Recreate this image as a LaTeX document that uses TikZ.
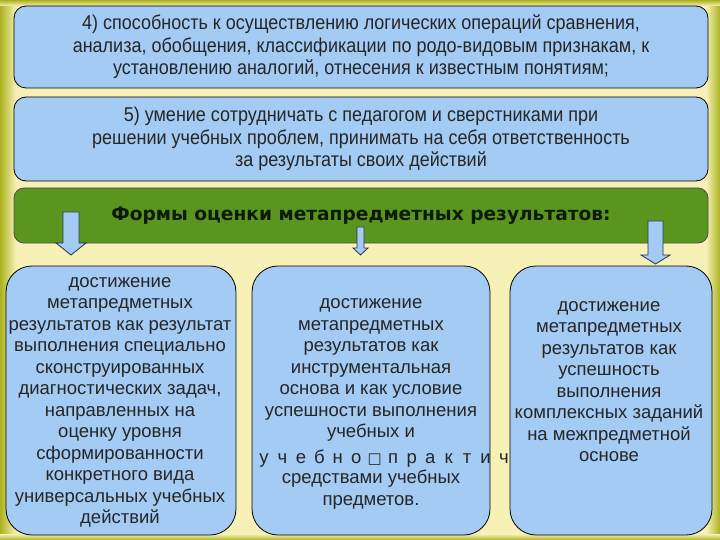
\documentclass[tikz,border=0pt]{standalone}
\usepackage{fontspec}
\setmainfont{Liberation Sans}
\newfontfamily\narrowfont[FakeStretch=0.9]{Liberation Sans}
\newfontfamily\titlefont{DejaVu Sans}
\newfontfamily\symfont{DejaVu Sans}
\definecolor{bgpale}{HTML}{F7F1B8}
\definecolor{edgeol}{HTML}{ABB21E}
\definecolor{boxblue}{HTML}{A4CBF3}
\definecolor{boxgreen}{HTML}{5A961E}
\definecolor{arrline}{HTML}{2A3648}
\definecolor{titletext}{HTML}{0E1A08}
\tikzset{
  bluebox/.style={draw=black, line width=0.8pt, fill=boxblue, rounded corners=12pt, inner sep=0pt},
  lowbox/.style={draw=black, line width=0.8pt, fill=boxblue, rounded corners=26pt, inner sep=0pt},
  greenbox/.style={draw=black!70, line width=0.8pt, fill=boxgreen, rounded corners=10pt, inner sep=0pt},
  toptext/.style={align=center, font={\narrowfont\fontsize{20}{22.5}\selectfont}, text=black!85},
  lowtext/.style={align=center, font={\fontsize{18.5}{21.5}\selectfont}, text=black!85, inner sep=0pt},
  blockarrow/.style={fill=boxblue, draw=arrline, line width=0.8pt, line join=miter}
}
\begin{document}
\begin{tikzpicture}[x=1pt,y=-1pt]
\useasboundingbox (0,0) rectangle (720,540);
% background
\fill[bgpale] (0,0) rectangle (720,540);
\shade[left color=edgeol, right color=bgpale] (0,0) rectangle (16,540);
\shade[left color=bgpale, right color=edgeol] (706,0) rectangle (720,540);
\shade[top color=edgeol, bottom color=bgpale] (0,0) rectangle (720,6);
\shade[top color=bgpale, bottom color=edgeol] (0,534) rectangle (720,540);

% top boxes
\node[bluebox, minimum width=694pt, minimum height=82pt, toptext] (b4) at (361,47)
  {4) способность к осуществлению логических операций сравнения,\\
   анализа, обобщения, классификации по родо-видовым признакам, к\\
   установлению аналогий, отнесения к известным понятиям;};
\node[bluebox, minimum width=694pt, minimum height=84pt, toptext] (b5) at (361,139)
  {5) умение сотрудничать с педагогом и сверстниками при\\
   решении учебных проблем, принимать на себя ответственность\\
   за результаты своих действий};

% green title
\node[greenbox, minimum width=694pt, minimum height=55pt] (g) at (361,215.5) {};
\node[font={\titlefont\bfseries\fontsize{18.6}{20}\selectfont}, text=titletext] (gt) at (361,216)
  {Формы оценки метапредметных результатов:};

% bottom boxes
\node[lowbox, minimum width=230pt, minimum height=269pt] (l) at (121,400.5) {};
\node[lowbox, minimum width=238pt, minimum height=269pt] (m) at (371,400.5) {};
\node[lowbox, minimum width=202pt, minimum height=269pt] (r) at (611,400.5) {};

\node[lowtext] (lt) at (120,402.5)
  {достижение\\ метапредметных\\ результатов как результат\\ выполнения специально\\
   сконструированных\\ диагностических задач,\\ направленных на\\ оценку уровня\\
   сформированности\\ конкретного вида\\ универсальных учебных\\ действий};
\node[lowtext] (mt) at (371,370)
  {достижение\\ метапредметных\\ результатов как\\ инструментальная\\
   основа и как условие\\ успешности выполнения\\ учебных и};
\node[lowtext] (mt2) at (371,489.5)
  {средствами учебных\\ предметов.};
\foreach \c [count=\i from 0] in {у,ч,е,б,н,о,{\symfont\fontsize{15}{15}\selectfont □},п,р,а,к,т,и,ч}
  \node[lowtext, anchor=base] (sp\i) at ({264+18.46*\i},463) {\c};
\node[lowtext] (rt) at (609,381.5)
  {достижение\\ метапредметных\\ результатов как\\ успешность\\ выполнения\\
   комплексных заданий\\ на межпредметной\\ основе};

% block arrows
\draw[blockarrow] (63,212) -- (79,212) -- (79,243) -- (86,243) -- (71,255) -- (56,243) -- (63,243) -- cycle;
\draw[blockarrow] (357,227) -- (364,227) -- (364,248) -- (368,248) -- (360.5,255) -- (353,248) -- (357,248) -- cycle;
\draw[blockarrow] (648,221) -- (663,221) -- (663,255) -- (670,255) -- (655.5,264) -- (641,255) -- (648,255) -- cycle;
\end{tikzpicture}
\end{document}
